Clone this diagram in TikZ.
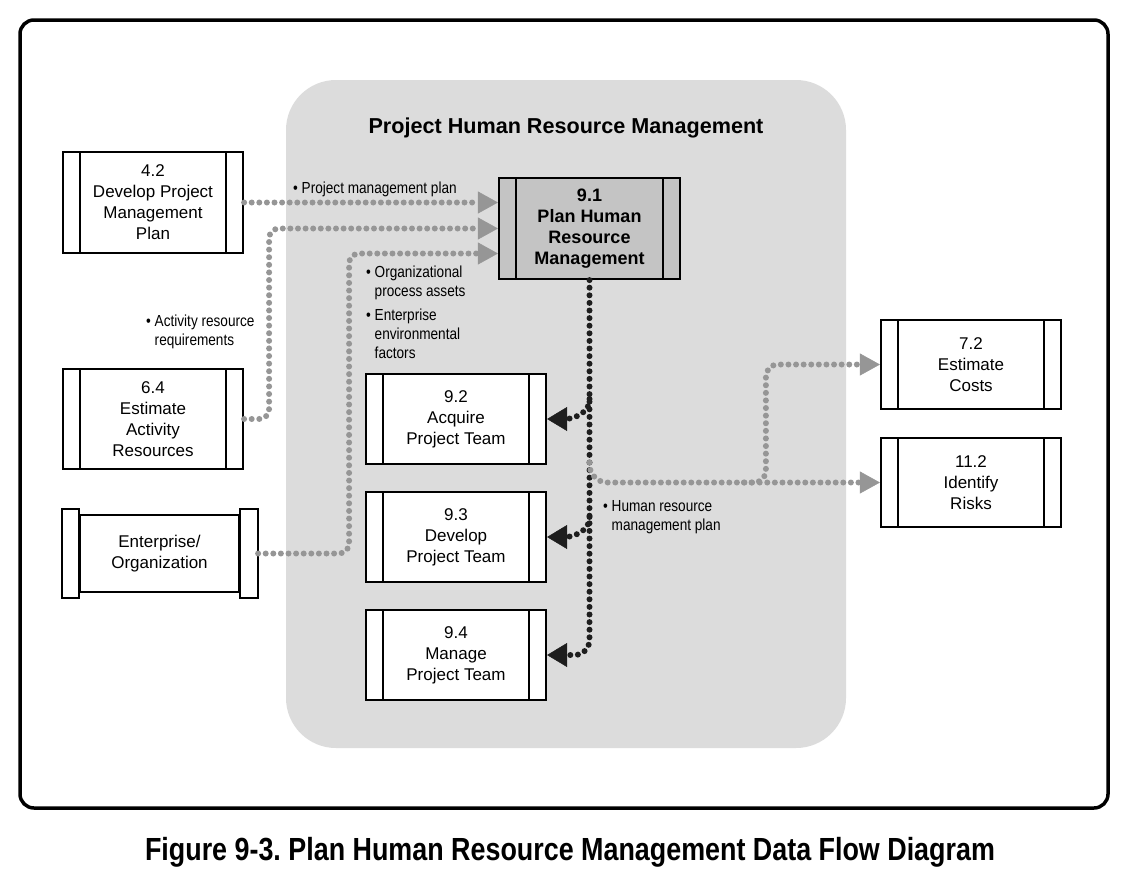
\documentclass[tikz,border=0pt]{standalone}
\usepackage{fontspec}
\setmainfont{Liberation Sans}
\newfontfamily\labfont[FakeStretch=0.85]{Liberation Sans}
\newfontfamily\capfont[FakeStretch=0.84]{Liberation Sans}
\usetikzlibrary{arrows.meta,calc}
\definecolor{regiongray}{HTML}{DCDCDC}
\definecolor{flowgray}{HTML}{969696}
\definecolor{flowblack}{HTML}{1E1E1E}
\definecolor{boxgray}{HTML}{C4C4C4}
\frenchspacing
\tikzset{
  procbox/.style={draw=black, line width=2.2pt, fill=white, inner sep=0pt, align=center,
    font=\fontsize{17}{21}\selectfont,
    path picture={\draw[line width=2.2pt]
      ([xshift=17pt]path picture bounding box.north west) -- ([xshift=17pt]path picture bounding box.south west)
      ([xshift=-17pt]path picture bounding box.north east) -- ([xshift=-17pt]path picture bounding box.south east);}},
  plainbox/.style={draw=black, line width=2.2pt, fill=white, inner sep=0pt, align=center,
    font=\fontsize{17}{21}\selectfont},
  lab/.style={font=\labfont\fontsize{16}{19}\selectfont, inner sep=0pt, align=left, anchor=west},
  grayflow/.style={draw=flowgray, line width=6pt, line cap=round, dash pattern=on 0pt off 7.6pt,
    -{Triangle[length=20pt,width=22pt,line width=0.5pt,color=flowgray,fill=flowgray]}},
  blackflow/.style={draw=flowblack, line width=6pt, line cap=round, dash pattern=on 0pt off 7.6pt,
    -{Triangle[length=20pt,width=24pt,line width=0.5pt,color=flowblack,fill=flowblack]}},
}
\begin{document}
\begin{tikzpicture}[x=1pt,y=-1pt]
\useasboundingbox (0,0) rectangle (1129,881);
\fill[white] (0,0) rectangle (1129,881);
\draw[line width=3.5pt, rounded corners=14pt] (20,20) rectangle (1108,808);
\fill[regiongray, rounded corners=50pt] (286,80) rectangle (846,748);
\node[font=\bfseries\fontsize{21.6}{25}\selectfont] (title) at (566,128) {Project Human Resource Management};

% boxes
\node[procbox, minimum width=180pt, minimum height=101pt] (n42) at (153,202.5) {4.2\\Develop Project\\Management\\Plan};
\node[procbox, minimum width=180pt, minimum height=100pt] (n64) at (153,419) {6.4\\Estimate\\Activity\\Resources};
\node[plainbox, minimum width=159pt, minimum height=77pt] (ent) at (159.5,553.5) {Enterprise/\\Organization};
\draw[line width=2.2pt, fill=white] ([xshift=-17pt,yshift=5pt]ent.north west) rectangle ([yshift=-5pt]ent.south west);
\draw[line width=2.2pt, fill=white] ([yshift=5pt]ent.north east) rectangle ([xshift=18pt,yshift=-5pt]ent.south east);
\coordinate (entR) at ($(ent.east)+(18,0)$);

\node[procbox, fill=boxgray, minimum width=181pt, minimum height=101pt,
      font=\bfseries\fontsize{18}{21}\selectfont] (n91) at (589.5,228.5) {9.1\\Plan Human\\Resource\\Management};
\node[procbox, minimum width=180pt, minimum height=90pt] (n92) at (456,419) {9.2\\Acquire\\Project Team};
\node[procbox, minimum width=180pt, minimum height=90pt] (n93) at (456,537) {9.3\\Develop\\Project Team};
\node[procbox, minimum width=180pt, minimum height=90pt] (n94) at (456,655) {9.4\\Manage\\Project Team};
\node[procbox, minimum width=180pt, minimum height=89pt] (n72) at (971,364.5) {7.2\\Estimate\\Costs};
\node[procbox, minimum width=180pt, minimum height=89pt] (n112) at (971,482.5) {11.2\\Identify\\Risks};

% labels
\node[lab] (l1) at (293,189) {• Project management plan};
\node[lab] (l2) at (146,332) {• Activity resource\\\hphantom{• }requirements};
\node[lab] (l3) at (366,282.5) {• Organizational\\\hphantom{• }process assets};
\node[lab] (l4) at (366,334) {• Enterprise\\\hphantom{• }environmental\\\hphantom{• }factors};
\node[lab] (l5) at (603,517) {• Human resource\\\hphantom{• }management plan};

% input flows
\draw[grayflow] (n42.east) -- (n42.east -| n91.west);
\draw[grayflow, rounded corners=10pt] (n64.east) -- ++(25,0) |- (n91.west);
\draw[grayflow, rounded corners=10pt] (entR) -- ++(91,0) |- ($(n91.west)+(0,25)$);

% black outputs
\draw[blackflow, rounded corners=15pt] (n91.south) |- (n94.east);
\draw[blackflow] ($(n91.south |- n92.east)+(0,-20)$) to[out=-90,in=0] (n92.east);
\draw[blackflow] ($(n91.south |- n93.east)+(0,-20)$) to[out=-90,in=0] (n93.east);

% gray outputs
\draw[grayflow, rounded corners=18pt] ($(n91.south |- n112.west)+(0,-20)$) |- (n112.west);
\draw[grayflow, rounded corners=12pt] ($(n112.west)+(-136,0)$) -| ($(n72.west)+(-114,0)$) -- (n72.west);

\node[font=\capfont\bfseries\fontsize{32}{38}\selectfont] (cap) at (570,852) {Figure 9-3. Plan Human Resource Management Data Flow Diagram};
\end{tikzpicture}
\end{document}
